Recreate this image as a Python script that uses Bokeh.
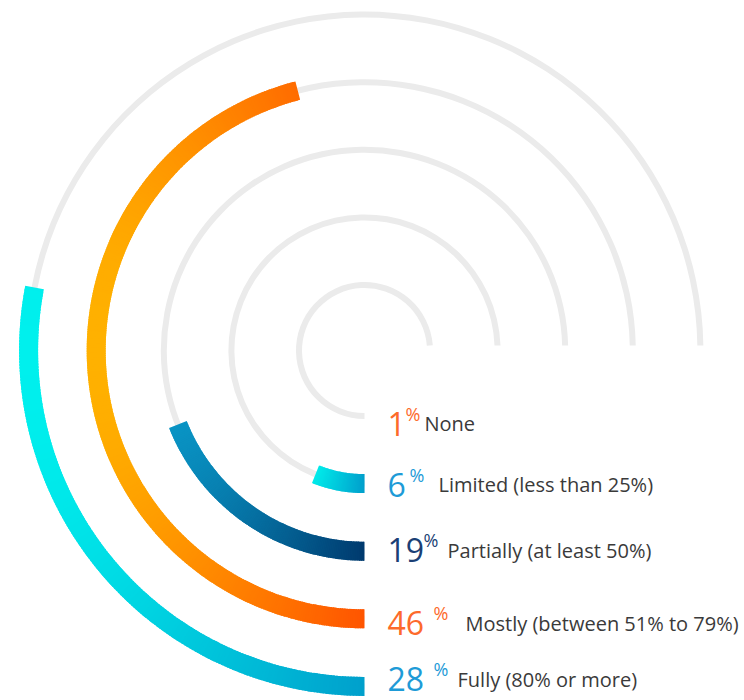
import math
import numpy as np
from bokeh.plotting import figure
from bokeh.models import Range1d, ColumnDataSource
from bokeh.core.properties import value
from bokeh.embed import file_html
from bokeh.resources import INLINE

# ---- data ----
categories = ["None", "Limited (less than 25%)", "Partially (at least 50%)",
              "Mostly (between 51% to 79%)", "Fully (80% or more)"]
percent = [1, 6, 19, 46, 28]

# ---- style ----
R0 = 65.5          # radius of innermost ring (px)
STEP = 67.6        # spacing between rings (px)
TRACK_W = 6
ARC_W = 19
TRACK_COLOR = "#ebebeb"
grad_left = ["#ffb400", "#00f0ec", "#0a98c8", "#ffb400", "#00f2ee"]
grad_right = ["#ff5500", "#009fcc", "#003a6e", "#ff5500", "#00a0cc"]
arc_visible = [False, True, True, True, True]
num_colors = ["#fd6a2b", "#1e9bd7", "#1b3f75", "#fd6a2b", "#1e9bd7"]
label_color = "#3a3a3a"
num_x = 23
pct_dx = [18, 22, 36, 46, 46]
label_dx = [37, 51, 60, 78, 70]
label_dy = [7.5, 1, -1, 4.5, -7]
FONT = "Open Sans"


def hex2rgb(h):
    h = h.lstrip("#")
    return tuple(int(h[i:i + 2], 16) for i in (0, 2, 4))


def mix(c1, c2, t):
    a, b = hex2rgb(c1), hex2rgb(c2)
    return "#%02x%02x%02x" % tuple(int(round(a[k] + (b[k] - a[k]) * t)) for k in range(3))


p = figure(width=744, height=700, x_range=Range1d(-364, 380), y_range=Range1d(-350, 350),
           output_backend="svg", toolbar_location=None, min_border=0,
           x_axis_type=None, y_axis_type=None)
p.grid.visible = False
p.outline_line_color = None
p.background_fill_color = "white"
p.border_fill_color = "white"

radii = [R0 + i * STEP for i in range(len(percent))]

# gray tracks
track_src = ColumnDataSource(dict(
    inner=[r - TRACK_W / 2 for r in radii],
    outer=[r + TRACK_W / 2 for r in radii],
    start=[math.asin(5.0 / r) for r in radii],
    end=[1.5 * math.pi] * len(radii),
))
p.annular_wedge(x=0, y=0, inner_radius="inner", outer_radius="outer",
                start_angle="start", end_angle="end", source=track_src,
                fill_color=TRACK_COLOR, line_color=None)

# gradient arcs
seg = dict(inner=[], outer=[], start=[], end=[], color=[])
for i, v in enumerate(percent):
    if not arc_visible[i]:
        continue
    r = radii[i]
    ro, ri = r + ARC_W / 2, r - ARC_W / 2
    a_end = 1.5 * math.pi
    a_start = a_end - v / 100.0 * 2 * math.pi
    samp = np.linspace(a_start, a_end, 400)
    xs = np.concatenate([np.cos(samp) * ro, np.cos(samp) * ri])
    xmin, xmax = xs.min(), xs.max()
    n = max(4, int(math.degrees(a_end - a_start) / 0.5))
    edges = np.linspace(a_start, a_end, n + 1)
    for k in range(n):
        a0, a1 = edges[k], edges[k + 1]
        m = 0.5 * (a0 + a1)
        t = (math.cos(m) * r - xmin) / (xmax - xmin)
        t = min(max(t, 0.0), 1.0)
        seg["inner"].append(ri)
        seg["outer"].append(ro)
        seg["start"].append(a0)
        seg["end"].append(min(a1 + 0.006, a_end))
        seg["color"].append(mix(grad_left[i], grad_right[i], t))
p.annular_wedge(x=0, y=0, inner_radius="inner", outer_radius="outer",
                start_angle="start", end_angle="end", source=ColumnDataSource(seg),
                fill_color="color", line_color=None)

# labels
base_y = [-r - d for r, d in zip(radii, label_dy)]
p.text(x=[num_x] * len(percent), y=base_y, text=[str(v) for v in percent],
       text_font=value(FONT), text_font_size="32px", text_color=num_colors,
       text_align="left", text_baseline="alphabetic")
p.text(x=[num_x + d for d in pct_dx], y=[b + 10 for b in base_y], text=["%"] * len(percent),
       text_font=value(FONT), text_font_size="18px", text_color=num_colors,
       text_align="left", text_baseline="alphabetic")
p.text(x=[num_x + d for d in label_dx], y=base_y, text=categories,
       text_font=value(FONT), text_font_size="20px", text_color=label_color,
       text_align="left", text_baseline="alphabetic")

open("out.html", "w").write(file_html(p, INLINE))
